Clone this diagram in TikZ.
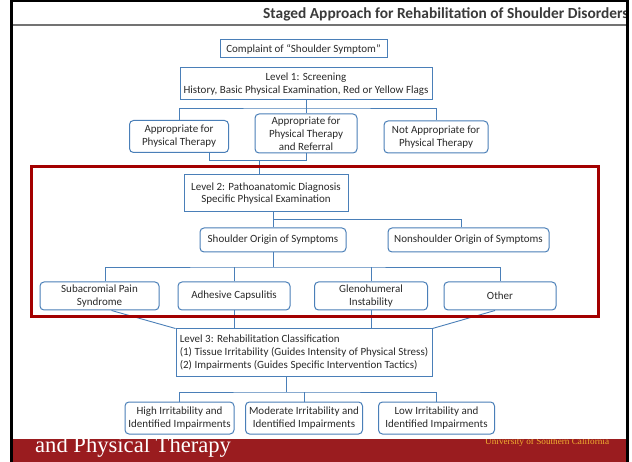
\documentclass[tikz,border=0pt]{standalone}
\usepackage{fontspec}
\setmainfont{Carlito}
\newfontfamily\barserif{Liberation Serif}
\definecolor{boxblue}{HTML}{4A7FB8}
\definecolor{txtc}{HTML}{2A2A2A}
\definecolor{frame}{HTML}{A30000}
\definecolor{barred}{HTML}{9A1C1F}
\definecolor{gold}{HTML}{F0B030}
\definecolor{titlec}{HTML}{3A3A3A}
\begin{document}
\begin{tikzpicture}[x=1pt,y=-1pt,
  box/.style={draw=boxblue,line width=1pt,fill=white,inner sep=0pt,align=center,text=txtc,
              font=\fontsize{11}{12.8}\selectfont},
  sq/.style={box},
  rd/.style={box,rounded corners=4pt},
  dims/.style 2 args={minimum width=#1pt,minimum height=#2pt},
  wire/.style={draw=boxblue,line width=0.9pt},
]
\useasboundingbox (0,0) rectangle (632,462);
\fill[white] (0,0) rectangle (632,462);

% title
\node[anchor=base east,text=titlec,font=\bfseries\fontsize{15.4}{17}\selectfont] (title) at (632,19) {Staged Approach for Rehabilitation of Shoulder Disorders};
\fill[white] (629,0) rectangle (632,462);

% level 1
\node[sq,dims={167}{18}] (comp) at (303.5,49) {Complaint of “Shoulder Symptom”};
\node[sq,dims={252}{32}] (l1) at (306,84) {Level 1: Screening\\History, Basic Physical Examination, Red or Yellow Flags};
\node[rd,dims={99}{32}] (a1) at (179,136.5) {Appropriate for\\Physical Therapy};
\node[rd,dims={102}{39}] (a2) at (306,133.5) {Appropriate for\\Physical Therapy\\and Referral};
\node[rd,dims={104}{32}] (a3) at (436,137) {Not Appropriate for\\Physical Therapy};

% level 2
\node[sq,dims={164}{37}] (l2) at (266,193.5) {Level 2: Pathoanatomic Diagnosis\\Specific Physical Examination};
\node[rd,dims={146}{24}] (so) at (273,240) {Shoulder Origin of Symptoms};
\node[rd,dims={161}{24}] (ns) at (468.5,240) {Nonshoulder Origin of Symptoms};
\node[rd,dims={119}{28}] (b1) at (99.5,296) {Subacromial Pain\\Syndrome};
\node[rd,dims={112}{28}] (b2) at (234,296) {Adhesive Capsulitis};
\node[rd,dims={113}{28}] (b3) at (371,296) {Glenohumeral\\Instability};
\node[rd,dims={112}{28}] (b4) at (500,296) {Other};

% level 3
\node[sq,dims={256}{47},align=left] (l3) at (304,352.5) {Level 3: Rehabilitation Classification\\(1) Tissue Irritability (Guides Intensity of Physical Stress)\\(2) Impairments (Guides Specific Intervention Tactics)};
\node[rd,dims={109}{32}] (c1) at (179.5,418) {High Irritability and\\Identified Impairments};
\node[rd,dims={117}{32}] (c2) at (304,418) {Moderate Irritability and\\Identified Impairments};
\node[rd,dims={116}{32}] (c3) at (436.5,418) {Low Irritability and\\Identified Impairments};

% connectors level 1
\coordinate (j1) at (306,108);
\draw[wire] (l1.south) -- (j1);
\draw[wire] (a1.north) |- (j1) -| (a3.north);
\draw[wire] (j1) -- (a2.north);
\coordinate (j2) at (259,160);
\coordinate (a1s) at ([xshift=30pt]a1.south);
\draw[wire] (a1s) |- (j2);
\draw[wire] (a2.south) |- (j2);
\draw[wire] (j2) -- (j2 |- l2.north);

% connectors level 2
\coordinate (j3) at (273,219);
\coordinate (nsn) at ([xshift=-7.5pt]ns.north);
\draw[wire] (j3 |- l2.south) -- (j3);
\draw[wire] (so.north) |- (j3) -| (nsn);
\coordinate (j4) at (273,267);
\coordinate (b1n) at ([xshift=5.5pt]b1.north);
\draw[wire] (so.south) -- (j4);
\draw[wire] (b1n) |- (j4) -| (b4.north);
\draw[wire] (b2.north) -- (b2.north |- j4);
\draw[wire] (b3.north) -- (b3.north |- j4);

% connectors to level 3
\coordinate (b1s) at ([xshift=12pt]b1.south);
\coordinate (b4s) at ([xshift=-5pt]b4.south);
\draw[wire] (b1s) -- (l3.north west);
\draw[wire] (b4s) -- (l3.north east);
\draw[wire] (b2.south) -- (b2.south |- l3.north);
\draw[wire] (b3.south) -- (b3.south |- l3.north);

% connectors level 3
\coordinate (j5) at (286,392);
\draw[wire] (j5 |- l3.south) -- (j5);
\draw[wire] (c1.north) |- (j5) -| (c3.north);
\draw[wire] (c2.north) -- (c2.north |- j5);

% red frame
\draw[frame,line width=3pt] (31,167) rectangle (598,317);

% bottom bar
\fill[barred] (12,439) rectangle (628,462);
\begin{scope}
\clip (12,439) rectangle (628,462);
\node[anchor=base west,inner sep=0pt,text=white,font=\barserif\fontsize{22.6}{22}\selectfont] (bart) at (35,452) {and Physical Therapy};
\node[anchor=base west,inner sep=0pt,text=gold,font=\barserif\fontsize{9.2}{9}\selectfont] (usc) at (485,444.5) {University of Southern California};
\end{scope}

% page frame
\draw[black!55,line width=1.2pt] (12,25) -- (627,25);
\draw[black,line width=2.5pt] (10,1) -- (629,1);
\draw[black,line width=2.5pt] (11.5,0) -- (11.5,462);
\draw[black,line width=2.5pt] (627.5,0) -- (627.5,462);
\end{tikzpicture}
\end{document}
